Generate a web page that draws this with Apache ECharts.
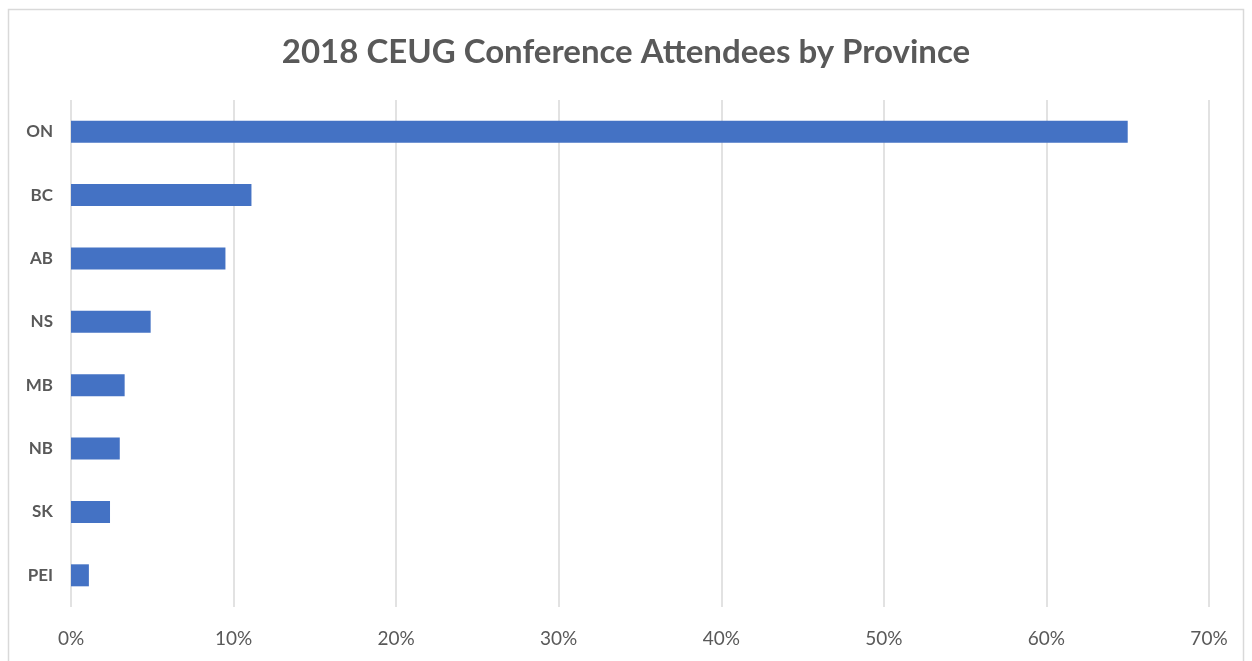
<!DOCTYPE html>
<html>
<head>
<meta charset="utf-8">
<script src="https://cdn.jsdelivr.net/npm/echarts@6/dist/echarts.min.js"></script>
<style>
  html, body { margin: 0; padding: 0; background: #fff; }
  #chart { width: 1252px; height: 661px; }
</style>
</head>
<body>
<div id="chart"></div>
<script>
// provinces, top to bottom
var provinces = ['ON', 'BC', 'AB', 'NS', 'MB', 'NB', 'SK', 'PEI'];
// share of attendees, percent
var share = [65.0, 11.1, 9.5, 4.9, 3.3, 3.0, 2.4, 1.1];
var xTicks = [0, 10, 20, 30, 40, 50, 60, 70];

var chart = echarts.init(document.getElementById('chart'));
chart.setOption({
  backgroundColor: '#fff',
  animation: false,
  graphic: [{
    type: 'rect',
    shape: { x: 8.5, y: 9.5, width: 1235, height: 670 },
    style: { fill: 'none', stroke: '#d9d9d9', lineWidth: 1.5 },
    silent: true
  }],
  title: {
    text: '2018 CEUG Conference Attendees by Province',
    left: 'center',
    top: 31,
    textStyle: {
      fontFamily: 'Lato',
      fontWeight: 'bold',
      fontSize: 33,
      color: '#595959'
    }
  },
  grid: { left: 71, right: 43, top: 100, bottom: 54 },
  xAxis: {
    type: 'value',
    min: xTicks[0],
    max: xTicks[xTicks.length - 1],
    interval: 10,
    axisLine: { show: false },
    axisTick: { show: false },
    splitLine: { lineStyle: { color: '#d9d9d9', width: 1.5 } },
    axisLabel: {
      margin: 22,
      formatter: '{value}%',
      fontFamily: 'Lato',
      fontSize: 19,
      color: '#595959'
    }
  },
  yAxis: {
    type: 'category',
    inverse: true,
    data: provinces,
    axisLine: { show: false },
    axisTick: { show: false },
    axisLabel: {
      margin: 18,
      fontFamily: 'Lato',
      fontWeight: 'bold',
      fontSize: 17,
      color: '#595959'
    }
  },
  series: [{
    type: 'bar',
    data: share,
    barWidth: 22,
    itemStyle: { color: '#4472C4' }
  }]
});
</script>
</body>
</html>
